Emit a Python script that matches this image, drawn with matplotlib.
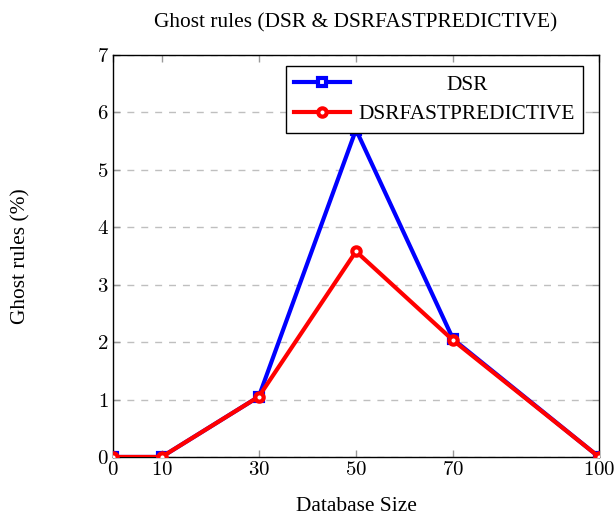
import numpy as np
import matplotlib.pyplot as plt
from matplotlib.ticker import FuncFormatter

# data
db_size = [0, 10, 30, 50, 70, 100]
dsr = [0, 0, 1.05, 5.7, 2.05, 0]
dsr_fast = [0, 0, 1.05, 3.58, 2.03, 0]
x_ticks = [0, 10, 30, 50, 70, 100]
y_ticks = [0, 1, 2, 3, 4, 5, 6, 7]

plt.rcParams['font.family'] = ['Liberation Serif', 'DejaVu Serif']
plt.rcParams['mathtext.fontset'] = 'cm'

fig = plt.figure(figsize=(6.16, 5.19), dpi=100)
ax = fig.add_axes([0.1834, 0.1195, 0.789, 0.7745])

ax.plot(db_size, dsr, color='blue', lw=3, marker='s', ms=6,
        mfc='white', mec='blue', mew=3, label='DSR', zorder=3)
ax.plot(db_size, dsr_fast, color='red', lw=3, marker='o', ms=6,
        mfc='white', mec='red', mew=3, label='DSRFASTPREDICTIVE', zorder=4)

ax.set_xlim(0, 100)
ax.set_ylim(0, 7)
ax.set_xticks(x_ticks)
ax.set_yticks(y_ticks)
tick_fmt = FuncFormatter(lambda v, p: '$%g$' % v)
ax.xaxis.set_major_formatter(tick_fmt)
ax.yaxis.set_major_formatter(tick_fmt)
ax.yaxis.grid(True, linestyle=(0, (5, 5)), color='#bfbfbf', lw=1)
ax.set_axisbelow(True)

ax.tick_params(direction='in', length=5, width=1, color='#999999',
               top=True, right=True, labelsize=15, pad=3)

for s in ax.spines.values():
    s.set_linewidth(1)

ax.set_title('Ghost rules (DSR & DSRFASTPREDICTIVE)', fontsize=15.4, pad=20)
ax.set_xlabel('Database Size', fontsize=15.4, labelpad=12)
ax.set_ylabel('Ghost rules (%)', fontsize=15.4, labelpad=48)

leg = ax.legend(loc='upper right', bbox_to_anchor=(0.968, 0.972), fontsize=15.4,
                fancybox=False, edgecolor='black', framealpha=1,
                handlelength=2.6, handletextpad=0.4, borderpad=0.4,
                labelspacing=0.45, borderaxespad=0)
leg.get_frame().set_linewidth(1)

# centre the short label in the legend column like pgfplots does
fig.canvas.draw()
texts = leg.get_texts()
r = fig.canvas.get_renderer()
w0 = texts[0].get_window_extent(r).width
w1 = texts[1].get_window_extent(r).width
texts[0].set_x((w1 - w0) / 2)

fig.savefig('out.png', dpi=100)
